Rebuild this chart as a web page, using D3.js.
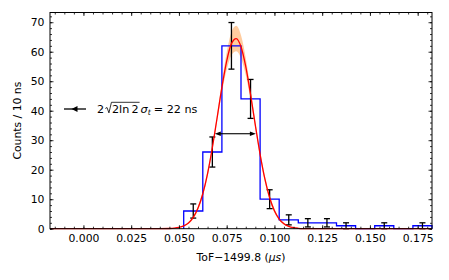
<!DOCTYPE html>
<html>
<head>
<meta charset="utf-8">
<script src="https://cdn.jsdelivr.net/npm/d3@7"></script>
<style>
  body { margin: 0; background: #fff; }
  text { font-family: "DejaVu Sans", sans-serif; fill: #000; }
</style>
</head>
<body>
<div id="chart"></div>
<script>
// histogram: left bin edges (us), counts per 10 ns and error bars
var binLeft = [0.0525, 0.0625, 0.0725, 0.0825, 0.0925, 0.1025, 0.1125, 0.1225, 0.1325, 0.1425, 0.1525, 0.1625, 0.1725];
var counts = [6, 26, 62, 44, 10, 3, 2, 2, 1, 0, 1, 0, 1];
var errors = [2.4, 5.1, 7.9, 6.6, 3.2, 1.7, 1.4, 1.4, 1.0, 0, 1.0, 0, 1.0];
var binWidth = 0.01;

// fitted curve
var fitX = [-0.0175, 0.03, 0.04, 0.045, 0.0475, 0.05, 0.0525, 0.055, 0.0575, 0.06, 0.0625, 0.065, 0.0675, 0.07, 0.0725, 0.075, 0.0775, 0.08, 0.0825, 0.085, 0.0875, 0.09, 0.0925, 0.095, 0.0975, 0.1, 0.1025, 0.105, 0.1075, 0.11, 0.1125, 0.115, 0.12, 0.13, 0.1825];
var fitY = [0, 0, 0.01, 0.07, 0.17, 0.41, 0.93, 1.96, 3.83, 6.98, 11.84, 18.70, 27.49, 37.62, 47.92, 56.83, 62.74, 64.47, 61.67, 54.91, 45.51, 35.11, 25.22, 16.86, 10.50, 6.08, 3.28, 1.65, 0.77, 0.33, 0.14, 0.05, 0.01, 0, 0];

// confidence band of the fit
var bandX = [0.0525, 0.055, 0.0575, 0.06, 0.0625, 0.065, 0.0675, 0.07, 0.0725, 0.075, 0.0775, 0.08, 0.0825, 0.085, 0.0875, 0.09, 0.0925, 0.095, 0.0975, 0.1, 0.1025, 0.105, 0.1075];
var bandHi = [1.13, 2.26, 4.33, 7.68, 12.74, 19.70, 28.49, 38.72, 49.72, 59.73, 66.64, 68.77, 65.57, 57.81, 47.31, 36.21, 26.22, 17.86, 11.40, 6.78, 3.78, 1.95, 0.97];
var bandLo = [0.73, 1.66, 3.33, 6.28, 10.94, 17.70, 26.49, 36.52, 46.12, 53.93, 58.84, 60.17, 57.77, 52.01, 43.71, 34.01, 24.22, 15.86, 9.60, 5.38, 2.78, 1.35, 0.57];

// FWHM arrow ends and height
var fwhmX = [0.0688, 0.0903];
var fwhmY = 32.2;

var xTicks = [0.000, 0.025, 0.050, 0.075, 0.100, 0.125, 0.150, 0.175];
var yTicks = [0, 10, 20, 30, 40, 50, 60, 70];

var W = 449, H = 280;
var margin = { top: 12.5, right: 17, bottom: 51.3, left: 50 };
var width = W - margin.left - margin.right;
var height = H - margin.top - margin.bottom;
var fs = 10.8;

var x = d3.scaleLinear().domain([-0.0175, 0.1825]).range([0, width]);
var y = d3.scaleLinear().domain([0, 73.3]).range([height, 0]);

var svg = d3.select("#chart").append("svg")
  .attr("width", W)
  .attr("height", H)
  .append("g")
  .attr("transform", "translate(" + margin.left + "," + margin.top + ")");

// band
var bandPts = bandX.map(function (d, i) { return [d, bandLo[i], bandHi[i]]; });
svg.append("path")
  .datum(bandPts)
  .attr("fill", "#ffcc9f")
  .attr("d", d3.area().curve(d3.curveMonotoneX)
    .x(function (d) { return x(d[0]); })
    .y0(function (d) { return y(d[1]); })
    .y1(function (d) { return y(d[2]); }));

// histogram steps
var steps = [[binLeft[0], 0]];
binLeft.forEach(function (b, i) {
  steps.push([b, counts[i]]);
  steps.push([b + binWidth, counts[i]]);
});
steps.push([binLeft[binLeft.length - 1] + binWidth, 0]);
svg.append("path")
  .datum(steps)
  .attr("fill", "none")
  .attr("stroke", "#0000ff")
  .attr("stroke-width", 1.3)
  .attr("d", d3.line().x(function (d) { return x(d[0]); }).y(function (d) { return y(d[1]); }));

// error bars
var eb = svg.append("g").attr("stroke", "#000").attr("stroke-width", 1.3);
binLeft.forEach(function (b, i) {
  if (counts[i] === 0) return;
  var cx = x(b + binWidth / 2);
  var y0 = y(counts[i] - errors[i]), y1 = y(counts[i] + errors[i]);
  eb.append("line").attr("x1", cx).attr("x2", cx).attr("y1", y0).attr("y2", y1);
  eb.append("line").attr("x1", cx - 3).attr("x2", cx + 3).attr("y1", y0).attr("y2", y0);
  eb.append("line").attr("x1", cx - 3).attr("x2", cx + 3).attr("y1", y1).attr("y2", y1);
});

// fit curve
svg.append("path")
  .datum(fitX.map(function (d, i) { return [d, fitY[i]]; }))
  .attr("fill", "none")
  .attr("stroke", "#ff0000")
  .attr("stroke-width", 1.3)
  .attr("d", d3.line().curve(d3.curveMonotoneX)
    .x(function (d) { return x(d[0]); })
    .y(function (d) { return y(d[1]); }));

// FWHM double arrow
var ax0 = x(fwhmX[0]), ax1 = x(fwhmX[1]), ay = y(fwhmY);
svg.append("line").attr("x1", ax0 + 5).attr("x2", ax1 - 5).attr("y1", ay).attr("y2", ay)
  .attr("stroke", "#000").attr("stroke-width", 1.1);
svg.append("path").attr("fill", "#000")
  .attr("d", "M" + ax0 + "," + ay + "L" + (ax0 + 6) + "," + (ay - 2.3) + "L" + (ax0 + 6) + "," + (ay + 2.3) + "Z");
svg.append("path").attr("fill", "#000")
  .attr("d", "M" + ax1 + "," + ay + "L" + (ax1 - 6) + "," + (ay - 2.3) + "L" + (ax1 - 6) + "," + (ay + 2.3) + "Z");

// axes, ticks pointing in on all sides
var xMinor = d3.range(-15, 183, 5).map(function (d) { return d / 1000; });
var yMinor = d3.range(0, 74, 2);

function styleAxis(g) {
  g.select(".domain").remove();
  g.selectAll("line").attr("stroke", "#000").attr("stroke-width", 0.8);
  g.selectAll("text").attr("font-size", fs).attr("font-family", "DejaVu Sans").attr("fill", "#000");
}

svg.append("g").attr("transform", "translate(0," + height + ")")
  .call(d3.axisBottom(x).tickValues(xMinor).tickSize(-2).tickFormat(""))
  .call(styleAxis);
svg.append("g").attr("transform", "translate(0," + height + ")")
  .call(d3.axisBottom(x).tickValues(xTicks).tickSize(-3.5).tickPadding(6).tickFormat(d3.format(".3f")))
  .call(styleAxis);
svg.append("g")
  .call(d3.axisTop(x).tickValues(xMinor).tickSize(-2).tickFormat(""))
  .call(styleAxis);
svg.append("g")
  .call(d3.axisTop(x).tickValues(xTicks).tickSize(-3.5).tickFormat(""))
  .call(styleAxis);
svg.append("g")
  .call(d3.axisLeft(y).tickValues(yMinor).tickSize(-2).tickFormat(""))
  .call(styleAxis);
svg.append("g")
  .call(d3.axisLeft(y).tickValues(yTicks).tickSize(-3.5).tickPadding(5.5))
  .call(styleAxis);
svg.append("g").attr("transform", "translate(" + width + ",0)")
  .call(d3.axisRight(y).tickValues(yMinor).tickSize(-2).tickFormat(""))
  .call(styleAxis);
svg.append("g").attr("transform", "translate(" + width + ",0)")
  .call(d3.axisRight(y).tickValues(yTicks).tickSize(-3.5).tickFormat(""))
  .call(styleAxis);

svg.append("rect")
  .attr("width", width).attr("height", height)
  .attr("fill", "none").attr("stroke", "#000").attr("stroke-width", 1);

// axis labels
var xl = svg.append("text")
  .attr("x", width / 2).attr("y", height + 32)
  .attr("text-anchor", "middle").attr("font-size", fs);
xl.append("tspan").text("ToF\u22121499.8 (");
xl.append("tspan").attr("font-style", "italic").text("\u03bcs");
xl.append("tspan").text(")");

svg.append("text")
  .attr("transform", "translate(" + (21 - margin.left) + "," + (height / 2) + ") rotate(-90)")
  .attr("text-anchor", "middle").attr("font-size", fs)
  .text("Counts / 10 ns");

// legend entry
var lg = svg.append("g").attr("transform", "translate(" + (-margin.left) + "," + (-margin.top) + ")");
lg.append("line").attr("x1", 64).attr("x2", 86).attr("y1", 109).attr("y2", 109)
  .attr("stroke", "#000").attr("stroke-width", 1.3);
lg.append("path").attr("fill", "#000").attr("d", "M71.5,109L77.5,106L77.5,112Z");

var lfs = 11.2;
var lx = 97, ly = 112.5;
function piece(str, italic, size, dy) {
  var t = lg.append("text").attr("x", lx).attr("y", ly + (dy || 0))
    .attr("font-size", size || lfs).text(str);
  if (italic) t.attr("font-style", "italic");
  lx += t.node().getComputedTextLength();
  return t;
}
piece("2");
var rx = lx + 1.2;
var rTop = ly - 10.2;
lx = rx + 6.6;
piece("2ln");
lx += 2.2;
piece("2");
lx += 1;
lg.append("path")
  .attr("fill", "none").attr("stroke", "#000").attr("stroke-width", 0.8)
  .attr("d", "M" + rx + "," + (ly - 4) + "L" + (rx + 1.7) + "," + (ly - 5) +
    "L" + (rx + 3.6) + "," + (ly + 0.4) + "L" + (rx + 6.1) + "," + rTop + "L" + lx + "," + rTop);
lx += 1;
piece("\u03c3", true);
piece("t", true, lfs * 0.7, 2.5);
lx += 3;
piece("= 22 ns");
</script>
</body>
</html>
